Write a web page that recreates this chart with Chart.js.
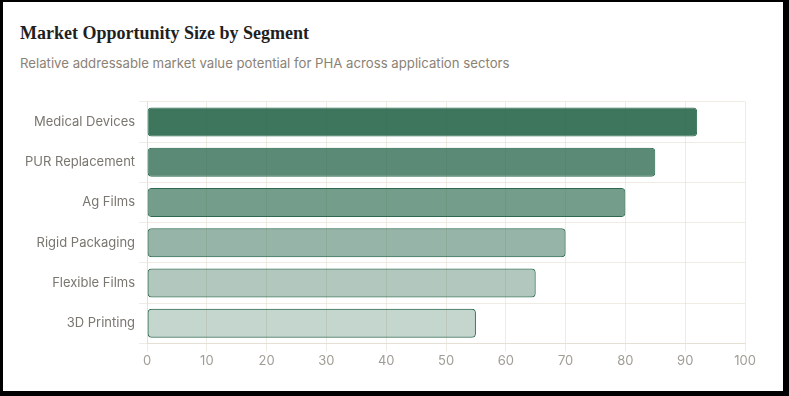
<!DOCTYPE html>
<html>
<head>
<meta charset="utf-8">
<script src="https://cdn.jsdelivr.net/npm/chart.js@4.4.0/dist/chart.umd.min.js"></script>
<style>
  html, body { margin: 0; padding: 0; background: #000; width: 789px; height: 396px; overflow: hidden; }
  #card { position: absolute; left: 3px; top: 2px; width: 780px; height: 389px; background: #fff; }
  #title { position: absolute; left: 17px; top: 21px; font-family: "Liberation Serif", serif; font-size: 18px; font-weight: 600; color: #1f1f1f; white-space: nowrap; }
  #subtitle { position: absolute; left: 17px; top: 53px; font-family: "Inter", sans-serif; font-size: 13.2px; color: #8a8275; white-space: nowrap; }
  #wrap { position: absolute; left: 7px; top: 88px; width: 760px; height: 281px; }
</style>
</head>
<body>
<div id="card">
  <div id="title">Market Opportunity Size by Segment</div>
  <div id="subtitle">Relative addressable market value potential for PHA across application sectors</div>
  <div id="wrap"><canvas id="c"></canvas></div>
</div>
<script>
const categories = ["Medical Devices", "PUR Replacement", "Ag Films", "Rigid Packaging", "Flexible Films", "3D Printing"];
const values = [92, 85, 80, 70, 65, 55];
const xTicks = [0, 10, 20, 30, 40, 50, 60, 70, 80, 90, 100];

const fillAlphas = [0.92, 0.78, 0.66, 0.5, 0.37, 0.28];
const base = "45,106,79";

new Chart(document.getElementById("c"), {
  type: "bar",
  data: {
    labels: categories,
    datasets: [{
      data: values,
      backgroundColor: fillAlphas.map(a => `rgba(${base},${a})`),
      borderColor: `rgb(${base})`,
      borderWidth: 1,
      borderRadius: 4,
      borderSkipped: false
    }]
  },
  options: {
    indexAxis: "y",
    responsive: true,
    maintainAspectRatio: false,
    animation: false,
    layout: { padding: { top: 5, right: 25, left: 11, bottom: 0 } },
    plugins: { legend: { display: false }, tooltip: { enabled: false } },
    scales: {
      x: {
        min: 0, max: 100,
        afterBuildTicks: axis => { axis.ticks = xTicks.map(v => ({ value: v })); },
        grid: { color: "rgba(225,220,205,0.55)", drawTicks: true, tickLength: 8 },
        border: { color: "rgba(225,220,205,0.7)" },
        ticks: { color: "#a09c96", font: { family: "Inter", size: 13 }, padding: 2 }
      },
      y: {
        grid: { color: "rgba(225,220,205,0.55)", drawTicks: true, tickLength: 8 },
        border: { color: "rgba(225,220,205,0.7)" },
        ticks: { color: "#7a7670", font: { family: "Inter", size: 13 }, padding: 4 }
      }
    }
  }
});
</script>
</body>
</html>
